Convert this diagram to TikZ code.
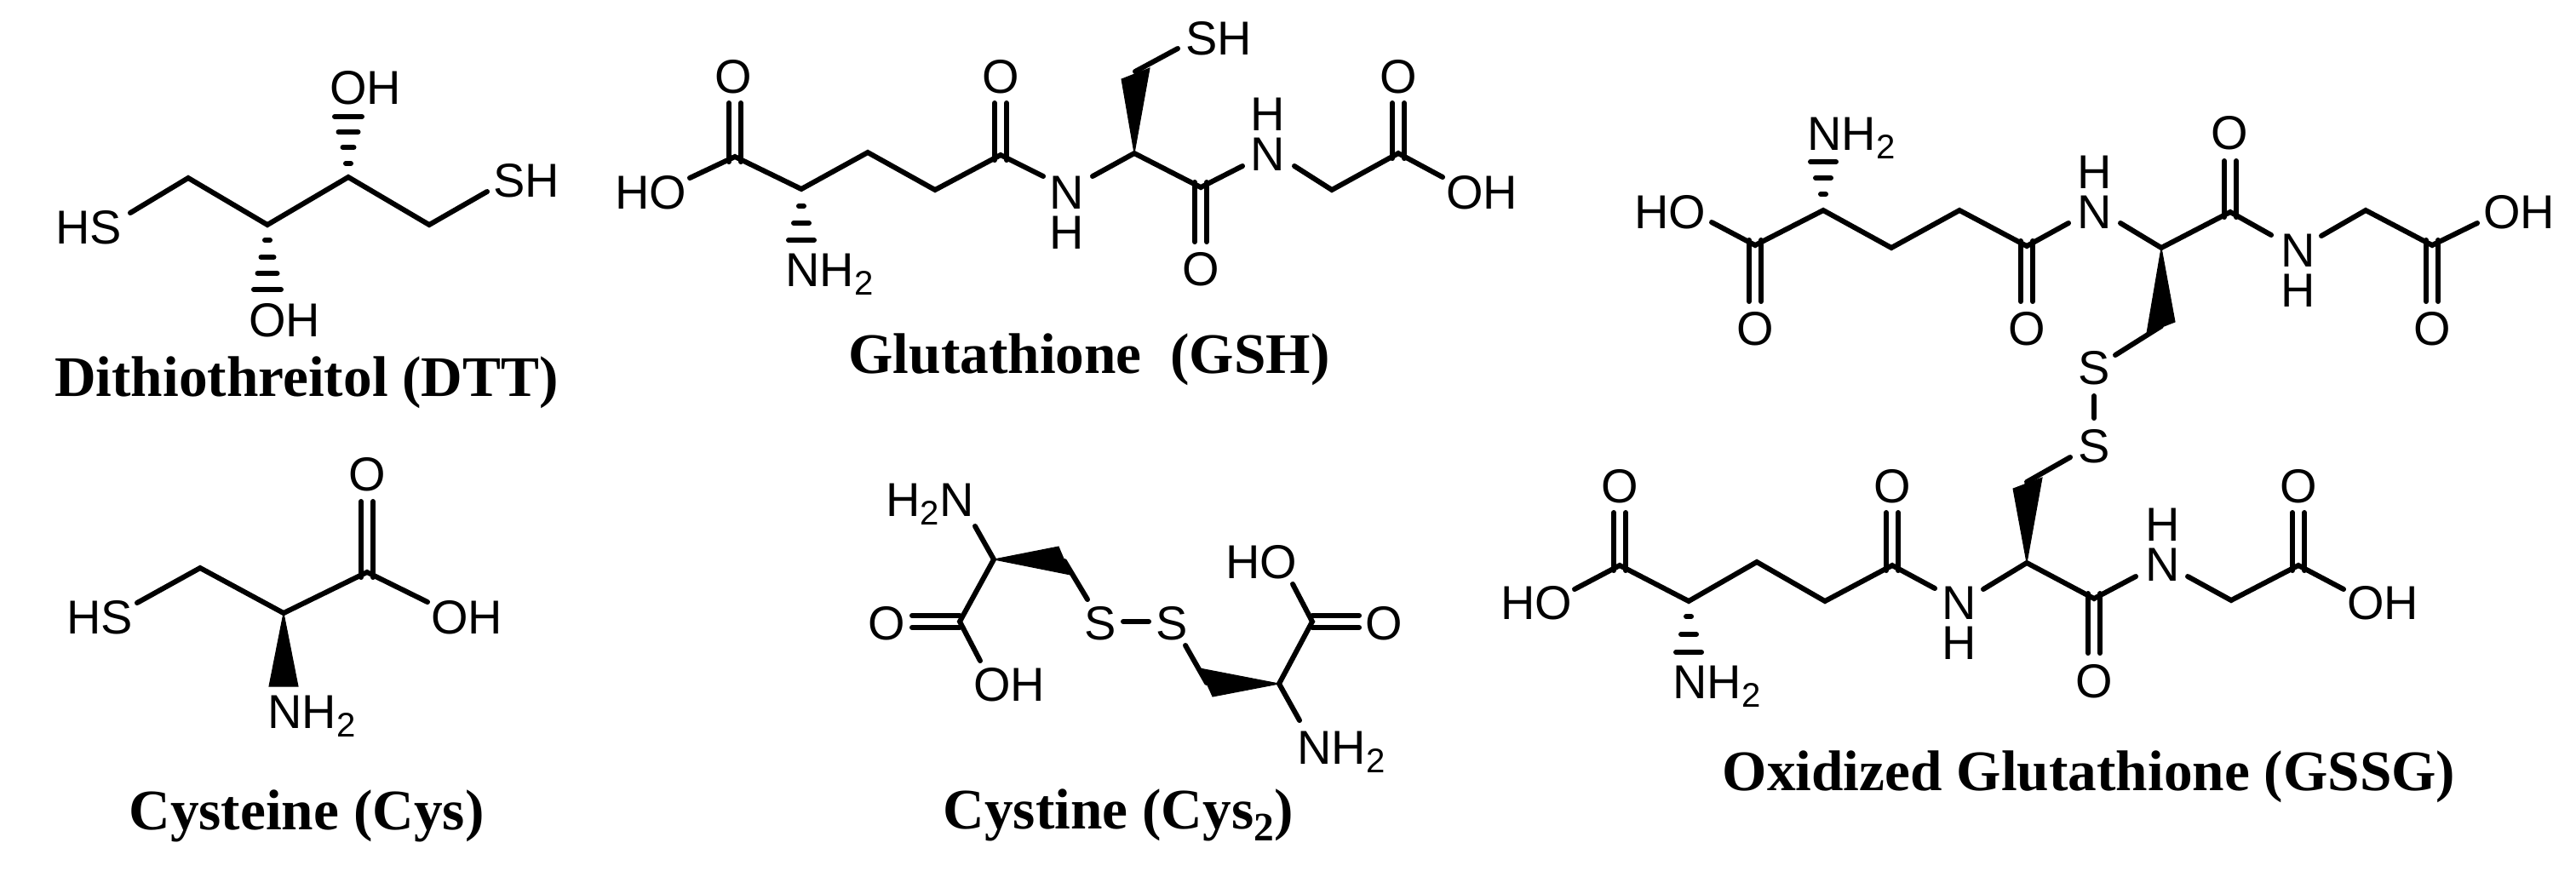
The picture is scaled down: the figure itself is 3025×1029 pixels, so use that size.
\documentclass[tikz,border=0pt]{standalone}
\usepackage{fontspec}
\setmainfont{Liberation Sans}
\newfontfamily\capfont{Liberation Serif}
\newcommand\subtwo{\raisebox{-3.1pt}{\fontsize{11.4}{12}\selectfont 2}}
\newcommand\capsub{\raisebox{-4.2pt}{\fontsize{13.5}{14}\selectfont 2}}
% double bonds: C atom below / above the end point
\newcommand\dblup[2]{\draw[bond] ([xshift=-.07cm,yshift=-.06cm]#1) -- ([xshift=-.07cm]#2);
  \draw[bond] ([xshift=.07cm,yshift=-.06cm]#1) -- ([xshift=.07cm]#2);}
\newcommand\dbldown[2]{\draw[bond] ([xshift=-.07cm,yshift=.06cm]#1) -- ([xshift=-.07cm]#2);
  \draw[bond] ([xshift=.07cm,yshift=.06cm]#1) -- ([xshift=.07cm]#2);}
\newcommand\dblright[2]{\draw[bond] ([yshift=-.07cm]#1) -- ([yshift=-.07cm]#2);
  \draw[bond] ([yshift=.07cm]#1) -- ([yshift=.07cm]#2);}
\newcommand\hm[3]{\draw[hashmark] ({#1-#3/2+3},#2) -- ({#1+#3/2-3},#2);}
\tikzset{
  bond/.style={line width=0.06cm,line cap=round,line join=miter,black},
  hashmark/.style={line width=0.06cm,line cap=round,black},
  wedgefill/.style={fill=black,draw=black,line width=0.01cm,line join=miter},
  atom/.style={font=\fontsize{15.9}{18}\selectfont,inner sep=0pt,anchor=base,text=black},
  atomstack/.style={font=\fontsize{15.9}{13.5}\selectfont,inner sep=0pt,anchor=north,align=center,text=black},
  molname/.style={font=\capfont\bfseries\fontsize{19.15}{22}\selectfont,inner sep=0pt,anchor=base,text=black},
}
\begin{document}
\begin{tikzpicture}[x=0.01cm,y=-0.01cm]
\useasboundingbox (0,0) rectangle (3025,1029);

% ---------- Dithiothreitol ----------
\coordinate (d0) at (153,250);
\coordinate (d1) at (221,209);
\coordinate (d2) at (314,264);
\coordinate (d3) at (409,208);
\coordinate (d4) at (504,264);
\coordinate (d5) at (572,225);
\node[atom] (dHS) at (104,286) {HS};
\node[atom] (dSH) at (618,231) {SH};
\node[atom] (dOHa) at (429,122) {OH};
\node[atom] (dOHb) at (334,395) {OH};
\node[molname] (dName) at (360,465) {Dithiothreitol (DTT)};
\draw[bond] (d0) -- (d1) -- (d2) -- (d3) -- (d4) -- (d5);
\hm{409}{137}{38}\hm{409}{155}{29}\hm{409}{173}{19}\hm{409}{192}{12}
\hm{314}{282}{12}\hm{314}{302}{21}\hm{314}{321}{29}\hm{314}{340}{38}

% ---------- Glutathione ----------
\coordinate (g1) at (810,209);
\coordinate (g2) at (863,184);
\coordinate (g3) at (941,222);
\coordinate (g4) at (1019,179);
\coordinate (g5) at (1098,223);
\coordinate (g6) at (1175,182);
\coordinate (g7) at (1225,207);
\coordinate (g8) at (1283,207);
\coordinate (g9) at (1332,180);
\coordinate (g10) at (1410,220);
\coordinate (g11) at (1459,195);
\coordinate (g12) at (1520,195);
\coordinate (g13) at (1564,223);
\coordinate (g14) at (1642,180);
\coordinate (g15) at (1694,208);
\coordinate (g16) at (1333,84);
\coordinate (g17) at (1383,57);
\coordinate (g18) at (1317,93);
\coordinate (g19) at (1350,80);
\coordinate (g2o) at (863,121);
\coordinate (g6o) at (1175,121);
\coordinate (g14o) at (1642,121);
\coordinate (g10o) at (1410,284);
\node[atom] (gHO) at (764,245) {HO};
\node[atom] (gO1) at (861,109) {O};
\node[atom] (gO2) at (1175,109) {O};
\node[atom] (gO3) at (1642,109) {O};
\node[atom] (gO4) at (1410,335) {O};
\node[atom] (gNH2) at (974,336) {NH\subtwo};
\node[atomstack] (gN1) at (1253,206) {N\\H};
\node[atomstack] (gN2) at (1489,114) {H\\N};
\node[atom] (gSH) at (1431,64) {SH};
\node[atom] (gOH) at (1740,245) {OH};
\node[molname] (gName) at (1279,438) {Glutathione\ \ (GSH)};
\draw[bond] (g1) -- (g2) -- (g3) -- (g4) -- (g5) -- (g6) -- (g7);
\draw[bond] (g8) -- (g9) -- (g10) -- (g11);
\draw[bond] (g12) -- (g13) -- (g14) -- (g15);
\draw[bond] (g16) -- (g17);
\dblup{g2}{g2o}\dblup{g6}{g6o}\dblup{g14}{g14o}\dbldown{g10}{g10o}
\fill[wedgefill] (g9) -- (g18) -- (g19) -- cycle;
\hm{941}{242}{12}\hm{941}{262}{24}\hm{941}{282}{36}

% ---------- Oxidized glutathione, upper half ----------
\coordinate (a1) at (2010,261);
\coordinate (a2) at (2061,288);
\coordinate (a3) at (2141,247);
\coordinate (a4) at (2221,291);
\coordinate (a5) at (2301,247);
\coordinate (a6) at (2380,289);
\coordinate (a7) at (2429,262);
\coordinate (a8) at (2490,262);
\coordinate (a9) at (2538,291);
\coordinate (a10) at (2619,249);
\coordinate (a11) at (2667,276);
\coordinate (a12) at (2726,277);
\coordinate (a13) at (2778,247);
\coordinate (a14) at (2856,288);
\coordinate (a15) at (2909,262);
\coordinate (a16) at (2521,391);
\coordinate (a17) at (2554,378);
\coordinate (a18) at (2538,383);
\coordinate (a19) at (2484,417);
\coordinate (a2o) at (2061,354);
\coordinate (a6o) at (2380,354);
\coordinate (a10o) at (2619,189);
\coordinate (a14o) at (2856,354);
\coordinate (ss1) at (2459,465);
\coordinate (ss2) at (2459,491);
\node[atom] (aHO) at (1961,268) {HO};
\node[atom] (aO1) at (2061,405) {O};
\node[atom] (aNH2) at (2174,176) {NH\subtwo};
\node[atom] (aO2) at (2380,405) {O};
\node[atomstack] (aN1) at (2460,182) {H\\N};
\node[atom] (aO3) at (2618,175) {O};
\node[atomstack] (aN2) at (2699,274) {N\\H};
\node[atom] (aOH) at (2958,268) {OH};
\node[atom] (aO4) at (2856,405) {O};
\node[atom] (aS) at (2459,451) {S};
\node[atom] (bS) at (2459,543) {S};
\draw[bond] (a1) -- (a2) -- (a3) -- (a4) -- (a5) -- (a6) -- (a7);
\draw[bond] (a8) -- (a9) -- (a10) -- (a11);
\draw[bond] (a12) -- (a13) -- (a14) -- (a15);
\draw[bond] (a18) -- (a19);
\draw[bond] (ss1) -- (ss2);
\dbldown{a2}{a2o}\dbldown{a6}{a6o}\dbldown{a14}{a14o}\dblup{a10}{a10o}
\fill[wedgefill] (a9) -- (a16) -- (a17) -- cycle;
\hm{2141}{190}{36}\hm{2141}{209}{24}\hm{2141}{228}{12}

% ---------- Oxidized glutathione, lower half ----------
\coordinate (b1) at (1849,692);
\coordinate (b2) at (1902,664);
\coordinate (b3) at (1983,706);
\coordinate (b4) at (2063,660);
\coordinate (b5) at (2143,706);
\coordinate (b6) at (2222,664);
\coordinate (b7) at (2272,691);
\coordinate (b8) at (2329,692);
\coordinate (b9) at (2380,661);
\coordinate (b10) at (2459,703);
\coordinate (b11) at (2508,677);
\coordinate (b12) at (2569,677);
\coordinate (b13) at (2620,705);
\coordinate (b14) at (2699,664);
\coordinate (b15) at (2752,692);
\coordinate (b16) at (2364,574);
\coordinate (b17) at (2398,561);
\coordinate (b18) at (2380,566);
\coordinate (b19) at (2431,537);
\coordinate (b2o) at (1902,602);
\coordinate (b6o) at (2222,602);
\coordinate (b10o) at (2459,767);
\coordinate (b14o) at (2699,602);
\node[atom] (bHO) at (1804,727) {HO};
\node[atom] (bO1) at (1902,590) {O};
\node[atom] (bNH2) at (2016,820) {NH\subtwo};
\node[atom] (bO2) at (2222,590) {O};
\node[atomstack] (bN1) at (2301,688) {N\\H};
\node[atom] (bO3) at (2459,819) {O};
\node[atomstack] (bN2) at (2540,596) {H\\N};
\node[atom] (bO4) at (2699,590) {O};
\node[atom] (bOH) at (2798,727) {OH};
\node[molname] (bName) at (2453,928) {Oxidized Glutathione (GSSG)};
\draw[bond] (b1) -- (b2) -- (b3) -- (b4) -- (b5) -- (b6) -- (b7);
\draw[bond] (b8) -- (b9) -- (b10) -- (b11);
\draw[bond] (b12) -- (b13) -- (b14) -- (b15);
\draw[bond] (b18) -- (b19);
\dblup{b2}{b2o}\dblup{b6}{b6o}\dblup{b14}{b14o}\dbldown{b10}{b10o}
\fill[wedgefill] (b9) -- (b16) -- (b17) -- cycle;
\hm{1983}{724}{12}\hm{1983}{745}{24}\hm{1983}{766}{36}

% ---------- Cysteine ----------
\coordinate (c1) at (161,708);
\coordinate (c2) at (235,667);
\coordinate (c3) at (333,720);
\coordinate (c4) at (431,672);
\coordinate (c5) at (502,707);
\coordinate (c6) at (316,806);
\coordinate (c7) at (350,806);
\coordinate (c4o) at (431,589);
\node[atom] (cHS) at (117,744) {HS};
\node[atom] (cOH) at (548,744) {OH};
\node[atom] (cO) at (431,576) {O};
\node[atom] (cNH2) at (366,855) {NH\subtwo};
\node[molname] (cName) at (360,974) {Cysteine (Cys)};
\draw[bond] (c1) -- (c2) -- (c3) -- (c4) -- (c5);
\dblup{c4}{c4o}
\fill[wedgefill] (c3) -- (c6) -- (c7) -- cycle;

% ---------- Cystine ----------
\coordinate (e1) at (1145,618);
\coordinate (e2) at (1167,657);
\coordinate (e3) at (1127,730);
\coordinate (e4) at (1151,776);
\coordinate (e5) at (1071,730);
\coordinate (e6) at (1243,642);
\coordinate (e7) at (1257,675);
\coordinate (e8) at (1250,659);
\coordinate (e9) at (1277,704);
\coordinate (e10) at (1319,730);
\coordinate (e11) at (1349,730);
\coordinate (e12) at (1392,758);
\coordinate (e13) at (1417,802);
\coordinate (e14) at (1409,785);
\coordinate (e15) at (1424,818);
\coordinate (e16) at (1502,803);
\coordinate (e17) at (1541,730);
\coordinate (e18) at (1518,686);
\coordinate (e19) at (1596,730);
\coordinate (e20) at (1526,846);
\node[atom] (eH2N) at (1092,606) {H\subtwo N};
\node[atom] (eO1) at (1041,751) {O};
\node[atom] (eOH) at (1185,823) {OH};
\node[atom] (eS1) at (1292,751) {S};
\node[atom] (eS2) at (1376,751) {S};
\node[atom] (eHO) at (1481,679) {HO};
\node[atom] (eO2) at (1625,751) {O};
\node[atom] (eNH2) at (1575,897) {NH\subtwo};
\node[molname] (eName) at (1313,973) {Cystine (Cys\capsub)};
\draw[bond] (e1) -- (e2) -- (e3) -- (e4);
\dblright{e3}{e5}
\draw[bond] (e8) -- (e9);
\draw[bond] (e10) -- (e11);
\draw[bond] (e12) -- (e13);
\draw[bond] (e18) -- (e17) -- (e16) -- (e20);
\dblright{e17}{e19}
\fill[wedgefill] (e2) -- (e6) -- (e7) -- cycle;
\fill[wedgefill] (e16) -- (e14) -- (e15) -- cycle;
\end{tikzpicture}
\end{document}
